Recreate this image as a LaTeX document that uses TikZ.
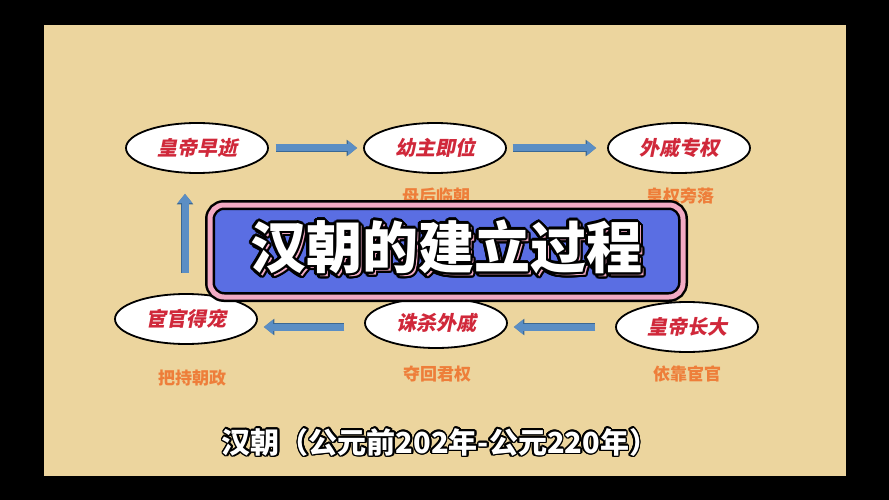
\documentclass[tikz,border=0pt]{standalone}
\usepackage{fontspec}
\newfontfamily\cjk{Noto Sans CJK SC}
\newfontfamily\cjkslant[FakeSlant=0.2]{Noto Sans CJK SC}
\usepackage[copies]{contour}
\usetikzlibrary{shapes.geometric, arrows.meta}
\definecolor{paper}{HTML}{ECD59E}
\definecolor{flowblue}{HTML}{5B8EC4}
\definecolor{flowedge}{HTML}{3A6894}
\definecolor{textred}{HTML}{D0283A}
\definecolor{labelorange}{HTML}{EE7E3A}
\definecolor{bannerblue}{HTML}{5A6EE3}
\definecolor{bannerpink}{HTML}{F2AAC4}

\begin{document}
\begin{tikzpicture}[x=1pt, y=-1pt, thick,
  main/.style = {draw, ellipse, fill=white, line width=1.8pt, minimum width=142pt, minimum height=50pt, inner sep=0pt, text=textred, font=\cjkslant\bfseries\fontsize{20}{24}\selectfont},
  note/.style = {text=labelorange, font=\cjk\bfseries\fontsize{17}{20}\selectfont},
  flow/.style = {draw=flowblue, line width=7pt, -{Triangle[length=9pt,width=14pt]}, preaction={draw=flowedge, line width=8.6pt, -{Triangle[length=10.5pt,width=16pt]}}},
  banner/.style = {draw=black, line width=2.5pt, double=bannerpink, double distance=5pt, fill=bannerblue, rounded corners=14pt, minimum width=473pt, minimum height=92pt}]
\useasboundingbox (0,0) rectangle (889,500);
\fill[black] (0,0) rectangle (889,500);
\fill[paper] (44,25) rectangle (846,476);

\node[main] (1) at (197,148) {皇帝早逝};
\node[main] (2) at (435,148) {幼主即位};
\node[main] (3) at (679,148) {外戚专权};
\node[main] (4) at (186,319) {宦官得宠};
\node[main] (5) at (436,323) {诛杀外戚};
\node[main] (6) at (687,327) {皇帝长大};

\node[note] (n2) at (436,196) {母后临朝};
\node[note] (n3) at (680,196) {皇权旁落};
\node[note] (n4) at (192,378) {把持朝政};
\node[note] (n5) at (437,374) {夺回君权};
\node[note] (n6) at (687,374) {依靠宦官};

\draw[flow, shorten <=7pt, shorten >=6pt] (1) -- (2);
\draw[flow, shorten <=6pt, shorten >=11pt] (2) -- (3);
\draw[flow, shorten <=20pt, shorten >=6pt] (6.west) -- (6.west -| 5.east);
\draw[flow, shorten <=20pt, shorten >=6pt] (6.west -| 5.west) -- (6.west -| 4.east);
\draw[flow, shorten <=20pt, shorten >=20pt] (4.north -| 185,0) -- (1.south -| 185,0);

% title banner
\node[banner] (0) at (446.5,251) {};
\contourlength{2.5pt}
\node[font=\cjk\bfseries\fontsize{56}{60}\selectfont] (t0) at (449,251) {\contour{black}{\textcolor{bannerpink}{汉朝的建立过程}}};
\node[font=\cjk\bfseries\fontsize{56}{60}\selectfont] (t1) at (446,248) {\contour{black}{\textcolor{white}{汉朝的建立过程}}};

\contourlength{1.6pt}
\node[font=\cjk\bfseries\fontsize{29}{32}\selectfont] (sub) at (440,443) {\contour{black}{\textcolor{white}{汉朝（公元前202年-公元220年）}}};
\end{tikzpicture}
\end{document}
